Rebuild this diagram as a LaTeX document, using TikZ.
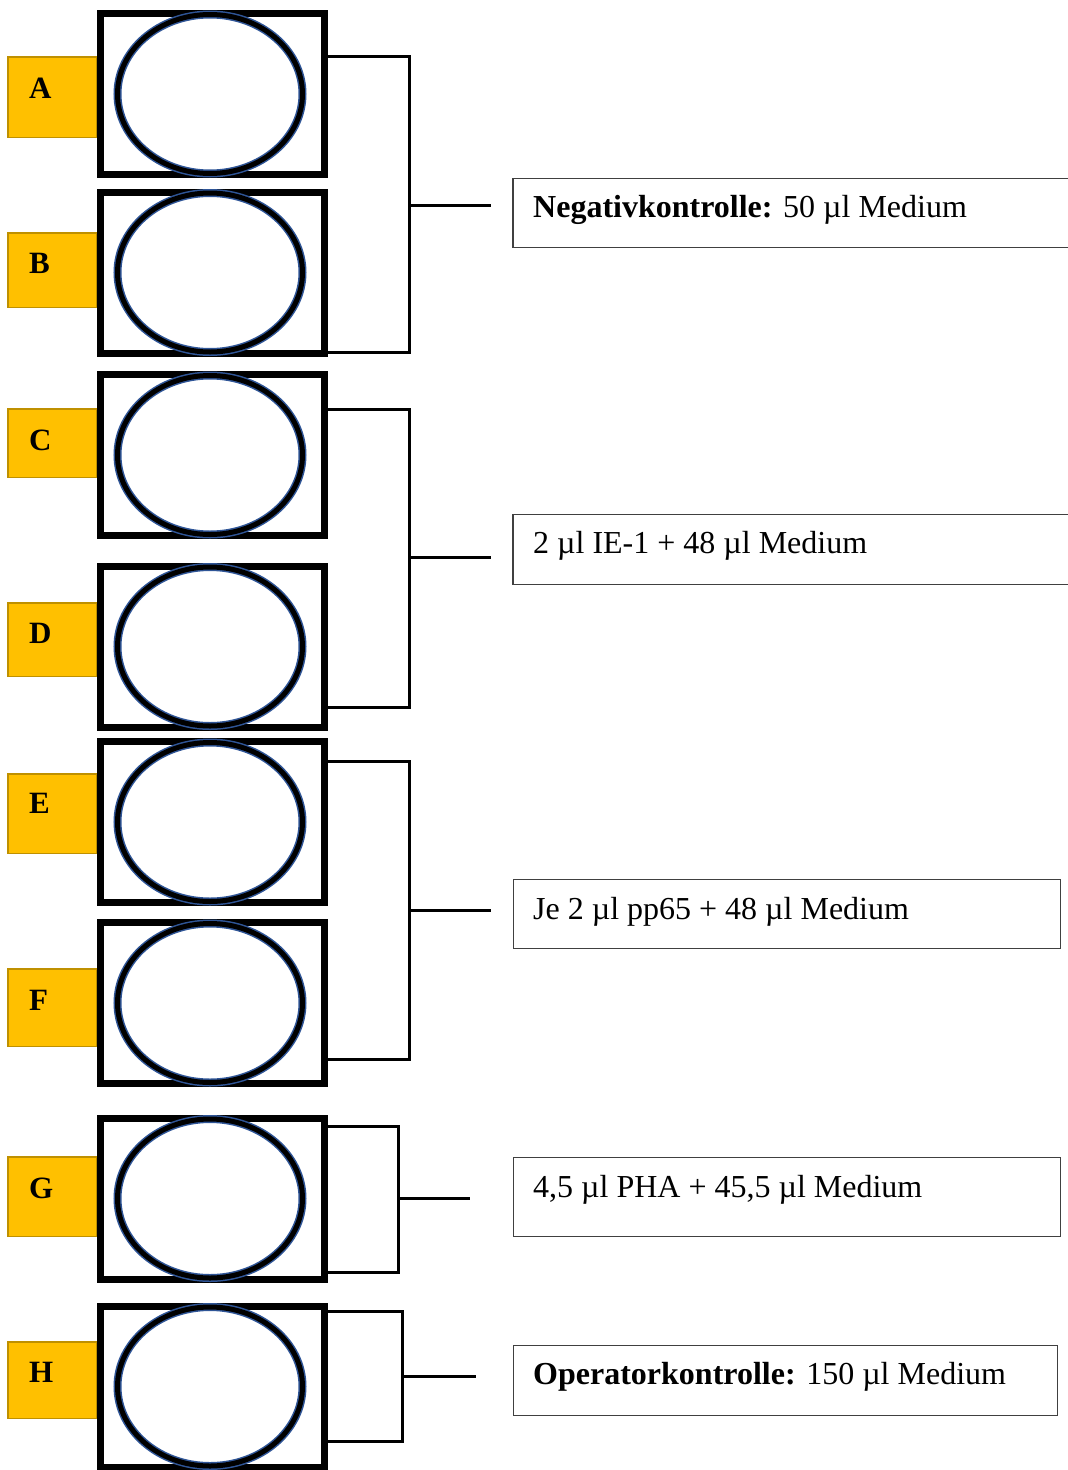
\documentclass[tikz,border=0pt]{standalone}
\usepackage{fontspec}
\setmainfont{Liberation Serif}
\usetikzlibrary{shapes.geometric}
\definecolor{labelfill}{HTML}{FFC000}
\definecolor{labeledge}{HTML}{BF9000}
\definecolor{ringblue}{HTML}{2F5597}
\definecolor{boxedge}{HTML}{404040}

\begin{document}
\begin{tikzpicture}[x=1pt,y=-1pt,
  well/.style={draw=black, fill=white, line width=7pt, minimum width=224pt,
    minimum height=161pt, inner sep=0pt},
  ring/.style={ellipse, draw=ringblue, double=black, double distance=5pt,
    line width=1.5pt, minimum width=185pt, minimum height=159pt, inner sep=0pt},
  tag/.style={draw=labeledge, fill=labelfill, line width=1.5pt,
    minimum width=88.5pt, inner sep=0pt},
  letter/.style={anchor=base west, inner sep=0pt,
    font=\fontsize{31}{31}\selectfont\bfseries},
  infobox/.style={draw=boxedge, line width=1.3pt, inner sep=0pt},
  info/.style={anchor=base west, inner sep=0pt,
    font=\fontsize{32}{32}\selectfont},
  bracket/.style={line width=3pt},
]
\useasboundingbox (0,0) rectangle (1068,1470);

% row labels (yellow tabs)
\node[tag, minimum height=80.5pt] (lA) at (52,97) {};
\node[tag, minimum height=74.5pt] (lB) at (52,270) {};
\node[tag, minimum height=68.5pt] (lC) at (52,443) {};
\node[tag, minimum height=73.5pt] (lD) at (52,639.5) {};
\node[tag, minimum height=79.5pt] (lE) at (52,813.5) {};
\node[tag, minimum height=77.5pt] (lF) at (52,1007.5) {};
\node[tag, minimum height=79.5pt] (lG) at (52,1196.5) {};
\node[tag, minimum height=76.5pt] (lH) at (52,1380) {};

\node[letter] (tA) at (29,98) {A};
\node[letter] (tB) at (29,273) {B};
\node[letter] (tC) at (29,450) {C};
\node[letter] (tD) at (29,643) {D};
\node[letter] (tE) at (29,813) {E};
\node[letter] (tF) at (29,1010) {F};
\node[letter] (tG) at (29,1198) {G};
\node[letter] (tH) at (29,1382) {H};

% wells
\node[well] (wA) at (212.5,94) {};
\node[well] (wB) at (212.5,272.5) {};
\node[well] (wC) at (212.5,455) {};
\node[well] (wD) at (212.5,646.5) {};
\node[well] (wE) at (212.5,822) {};
\node[well] (wF) at (212.5,1003) {};
\node[well] (wG) at (212.5,1198.5) {};
\node[well] (wH) at (212.5,1386.5) {};

\foreach \w in {A,B,C,D,E,F,G,H}
  \node[ring] (r\w) at ([xshift=-2.5pt]w\w.center) {};

% description boxes
\node[infobox, minimum width=562pt, minimum height=68.7pt] (tb1) at (794,213) {};
\node[infobox, minimum width=562pt, minimum height=69.7pt] (tb2) at (794,549.5) {};
\node[infobox, minimum width=546.7pt, minimum height=68.7pt] (tb3) at (787,914) {};
\node[infobox, minimum width=546.7pt, minimum height=78.7pt] (tb4) at (787,1197) {};
\node[infobox, minimum width=543.7pt, minimum height=69.7pt] (tb5) at (785.5,1380.5) {};

\node[info] (tx1) at (533,217) {\textbf{Negativkontrolle:} 50 µl Medium};
\node[info] (tx2) at (533,553) {2 µl IE-1 + 48 µl Medium};
\node[info] (tx3) at (533,919) {Je 2 µl pp65 + 48 µl Medium};
\node[info] (tx4) at (533,1197) {4,5 µl PHA + 45,5 µl Medium};
\node[info] (tx5) at (533,1384) {\textbf{Operatorkontrolle:} 150 µl Medium};

% brackets grouping the wells
\coordinate (ab1) at (409,56);   \coordinate (ab2) at (409,352);
\coordinate (abm) at (409,205);  \coordinate (abt) at (491,205);
\coordinate (cd1) at (409,409);  \coordinate (cd2) at (409,707);
\coordinate (cdm) at (409,557);  \coordinate (cdt) at (491,557);
\coordinate (ef1) at (409,761);  \coordinate (ef2) at (409,1059);
\coordinate (efm) at (409,910);  \coordinate (eft) at (491,910);
\coordinate (g1) at (398,1126);  \coordinate (g2) at (398,1272);
\coordinate (gm) at (398,1198);  \coordinate (gt) at (470,1198);
\coordinate (h1) at (402,1311);  \coordinate (h2) at (402,1441);
\coordinate (hm) at (402,1376);  \coordinate (ht) at (476,1376);

\draw[bracket] (wA.east |- ab1) -- (ab1) -- (ab2) -- (wB.east |- ab2);
\draw[bracket] (abm) -- (abt);
\draw[bracket] (wC.east |- cd1) -- (cd1) -- (cd2) -- (wD.east |- cd2);
\draw[bracket] (cdm) -- (cdt);
\draw[bracket] (wE.east |- ef1) -- (ef1) -- (ef2) -- (wF.east |- ef2);
\draw[bracket] (efm) -- (eft);
\draw[bracket] (wG.east |- g1) -- (g1) -- (g2) -- (wG.east |- g2);
\draw[bracket] (gm) -- (gt);
\draw[bracket] (wH.east |- h1) -- (h1) -- (h2) -- (wH.east |- h2);
\draw[bracket] (hm) -- (ht);
\end{tikzpicture}
\end{document}
